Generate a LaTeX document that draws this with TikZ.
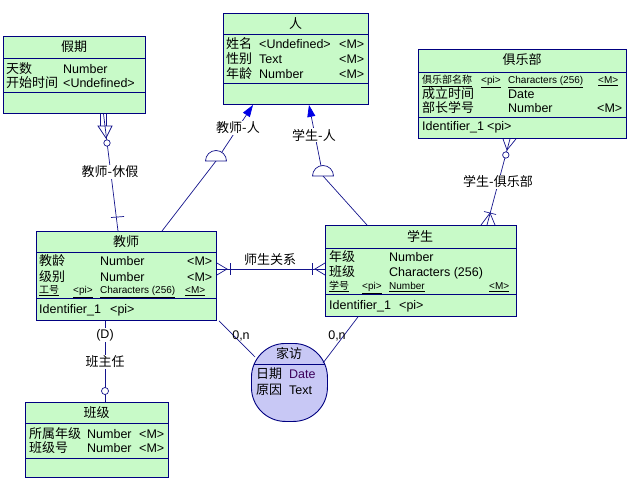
\documentclass[tikz,border=0pt]{standalone}
\usepackage{fontspec}
\setmainfont{Liberation Sans}
\newfontfamily\cjk{Noto Sans CJK SC}
\usetikzlibrary{arrows.meta,calc}
\definecolor{entfill}{RGB}{200,250,200}
\definecolor{assocfill}{RGB}{200,200,245}
\definecolor{navy}{RGB}{0,0,128}
\definecolor{lnk}{RGB}{20,20,140}
\definecolor{arrowblue}{RGB}{0,0,230}
\definecolor{datecol}{RGB}{60,0,90}
\tikzset{
  ent/.style={draw=navy, fill=entfill, line width=0.9pt, inner sep=0pt, anchor=north west},
  assoc/.style={draw=navy, fill=assocfill, line width=0.9pt, inner sep=0pt, anchor=north west, rounded corners=34pt},
  sepl/.style={draw=navy, line width=0.9pt},
  cj/.style={font=\cjk\fontsize{13}{14}\selectfont, inner sep=0pt, anchor=base west},
  lt/.style={font=\fontsize{12.5}{14}\selectfont, inner sep=0pt, anchor=base west},
  sm/.style={font=\fontsize{10}{11}\selectfont, inner sep=0pt, anchor=base west},
  smcj/.style={font=\cjk\fontsize{10}{11}\selectfont, inner sep=0pt, anchor=base west},
  ttl/.style={font=\cjk\fontsize{13}{14}\selectfont, inner sep=0pt, anchor=base},
  conn/.style={draw=lnk, line width=0.7pt},
  lbl/.style={font=\cjk\fontsize{13}{14}\selectfont, fill=white, inner sep=1pt},
  lbll/.style={font=\fontsize{12.5}{14}\selectfont, fill=white, inner sep=1pt},
  arr/.style={-{Triangle[length=12pt,width=8pt,color=arrowblue]}},
}
\begin{document}
\begin{tikzpicture}[x=1pt,y=-1pt]
\useasboundingbox[fill=white] (0,0) rectangle (635,492);

% ---------- entities ----------
\node[ent, minimum width=145pt, minimum height=91pt] (ren) at (223,13) {};
\draw[sepl] (ren.west |- 0,34) -- (ren.east |- 0,34);
\draw[sepl] (ren.west |- 0,83) -- (ren.east |- 0,83);
\node[ttl] at (295.5,28.5) {人};
\node[cj] at (226,48.5) {姓名};
\node[lt] at (259,48.5) {<Undefined>};
\node[lt] at (339,48.5) {<M>};
\node[cj] at (226,64) {性别};
\node[lt] at (259,64) {Text};
\node[lt] at (339,64) {<M>};
\node[cj] at (226,78.5) {年龄};
\node[lt] at (259,78.5) {Number};
\node[lt] at (339,78.5) {<M>};

\node[ent, minimum width=142pt, minimum height=77pt] (jq) at (3,36) {};
\draw[sepl] (jq.west |- 0,58) -- (jq.east |- 0,58);
\draw[sepl] (jq.west |- 0,92) -- (jq.east |- 0,92);
\node[ttl] at (74,51.5) {假期};
\node[cj] at (6,73.5) {天数};
\node[lt] at (63,73.5) {Number};
\node[cj] at (6,87.5) {开始时间};
\node[lt] at (63,87.5) {<Undefined>};

\node[ent, minimum width=208pt, minimum height=89pt] (club) at (418,49) {};
\draw[sepl] (club.west |- 0,72) -- (club.east |- 0,72);
\draw[sepl] (club.west |- 0,117) -- (club.east |- 0,117);
\node[ttl] at (522,65) {俱乐部};
\node[smcj] at (422,83.5) {\underline{俱乐部名称}};
\node[sm] at (481,83.5) {\underline{<pi>}};
\node[sm] at (508,83.5) {\underline{Characters (256)}};
\node[sm] at (598,83.5) {\underline{<M>}};
\node[cj] at (422,98.5) {成立时间};
\node[lt] at (508,98.5) {Date};
\node[cj] at (422,112.5) {部长学号};
\node[lt] at (508,112.5) {Number};
\node[lt] at (597,112.5) {<M>};
\node[lt] at (422,131) {Identifier\_1};
\node[lt] at (487,131) {<pi>};

\node[ent, minimum width=180pt, minimum height=89pt] (tea) at (36,231) {};
\draw[sepl] (tea.west |- 0,252) -- (tea.east |- 0,252);
\draw[sepl] (tea.west |- 0,298) -- (tea.east |- 0,298);
\node[ttl] at (126,246) {教师};
\node[cj] at (39,265.5) {教龄};
\node[lt] at (100,265.5) {Number};
\node[lt] at (187,265.5) {<M>};
\node[cj] at (39,281) {级别};
\node[lt] at (100,281) {Number};
\node[lt] at (187,281) {<M>};
\node[smcj] at (39,293.5) {\underline{工号}};
\node[sm] at (73,293.5) {\underline{<pi>}};
\node[sm] at (100,293.5) {\underline{Characters (256)}};
\node[sm] at (185,293.5) {\underline{<M>}};
\node[lt] at (39,313.5) {Identifier\_1};
\node[lt] at (110,313.5) {<pi>};

\node[ent, minimum width=191pt, minimum height=91pt] (stu) at (325,225) {};
\draw[sepl] (stu.west |- 0,248) -- (stu.east |- 0,248);
\draw[sepl] (stu.west |- 0,294) -- (stu.east |- 0,294);
\node[ttl] at (420,241) {学生};
\node[cj] at (329,261.5) {年级};
\node[lt] at (389,261.5) {Number};
\node[cj] at (329,276.5) {班级};
\node[lt] at (389,276.5) {Characters (256)};
\node[smcj] at (329,289.5) {\underline{学号}};
\node[sm] at (362,289.5) {\underline{<pi>}};
\node[sm] at (389,289.5) {\underline{Number}};
\node[sm] at (489,289.5) {\underline{<M>}};
\node[lt] at (329,309.5) {Identifier\_1};
\node[lt] at (399,309.5) {<pi>};

\node[ent, minimum width=143pt, minimum height=75pt] (bj) at (25,402) {};
\draw[sepl] (bj.west |- 0,423) -- (bj.east |- 0,423);
\draw[sepl] (bj.west |- 0,458) -- (bj.east |- 0,458);
\node[ttl] at (96.5,417) {班级};
\node[cj] at (29,438.5) {所属年级};
\node[lt] at (87,438.5) {Number};
\node[lt] at (139,438.5) {<M>};
\node[cj] at (29,452.5) {班级号};
\node[lt] at (87,452.5) {Number};
\node[lt] at (139,452.5) {<M>};

% ---------- association ----------
\node[assoc, minimum width=76pt, minimum height=78pt] (jf) at (251,343) {};
\draw[sepl] (253.5,364) -- (324.5,364);
\node[ttl] at (289,358.5) {家访};
\node[cj] at (256,378.5) {日期};
\node[lt, text=datecol] at (289,378.5) {Date};
\node[cj] at (256,394.5) {原因};
\node[lt] at (289,394.5) {Text};

% ---------- connectors ----------
% 教师-休假
\draw[conn] (103.5,0 |- jq.south) -- (118,0 |- tea.north);
\draw[conn] (100.5,0 |- jq.south) -- (100.5,126);
\draw[conn] (106.5,0 |- jq.south) -- (106.5,126);
\draw[conn] (98,126) -- (112,126) -- (106,138) -- cycle;
\draw[conn, fill=white] (107,143) circle[radius=3.2pt];
\draw[conn] (111,217.5) -- (124,216.5);
\node[lbl] at (110,172) {教师-休假};

% 教师-人
\coordinate (hc1) at (216,161);
\draw[conn, arr] (162,0 |- tea.north) -- (hc1) -- (253,0 |- ren.south);
\draw[conn, fill=white] ($(hc1)+(-10.5,0)$) arc[start angle=180, end angle=0, radius=10.5pt] -- cycle;
\node[lbl] at (238,128) {教师-人};

% 学生-人
\coordinate (hc2) at (323,176);
\draw[conn, arr] (367,0 |- stu.north) -- (hc2) -- (309,0 |- ren.south);
\draw[conn, fill=white] ($(hc2)+(-10.5,0)$) arc[start angle=180, end angle=0, radius=10.5pt] -- cycle;
\node[lbl] at (314,135) {学生-人};

% 学生-俱乐部
\draw[conn] (510,0 |- club.south) -- (487,0 |- stu.north);
\draw[conn] (503,0 |- club.south) -- (507,150) -- (516,0 |- club.south);
\draw[conn, fill=white] (505.8,155) circle[radius=3.2pt];
\draw[conn] (481,0 |- stu.north) -- (490,213) -- (495,0 |- stu.north);
\draw[conn] (484,211.5) -- (496,214.5);
\node[lbl] at (498,182) {学生-俱乐部};

% 师生关系
\draw[conn] (tea.east |- 0,269) -- (stu.west |- 0,269);
\draw[conn] (tea.east |- 0,263) -- (227,269) -- (tea.east |- 0,275);
\draw[conn] (230,263) -- (230,275);
\draw[conn] (stu.west |- 0,263) -- (315,269) -- (stu.west |- 0,275);
\draw[conn] (312,263) -- (312,275);
\node[font=\cjk\fontsize{13}{14}\selectfont, inner sep=0pt] at (270,260) {师生关系};

% 家访
\coordinate (jfL) at (255,357);
\coordinate (jfR) at (323,363);
\draw[conn] (219,0 |- tea.south) -- (jfL);
\draw[conn] (358,0 |- stu.south) -- (jfR);
\node[font=\fontsize{12.5}{14}\selectfont, inner sep=0pt] at (241,336) {0,n};
\node[font=\fontsize{12.5}{14}\selectfont, inner sep=0pt] at (337,336) {0,n};

% 班主任
\draw[conn] (105,0 |- tea.south) -- (105,0 |- bj.north);
\draw[conn, fill=white] (105,391) circle[radius=3.5pt];
\node[lbll] at (105,335) {(D)};
\node[lbl] at (105,362) {班主任};
\end{tikzpicture}
\end{document}
